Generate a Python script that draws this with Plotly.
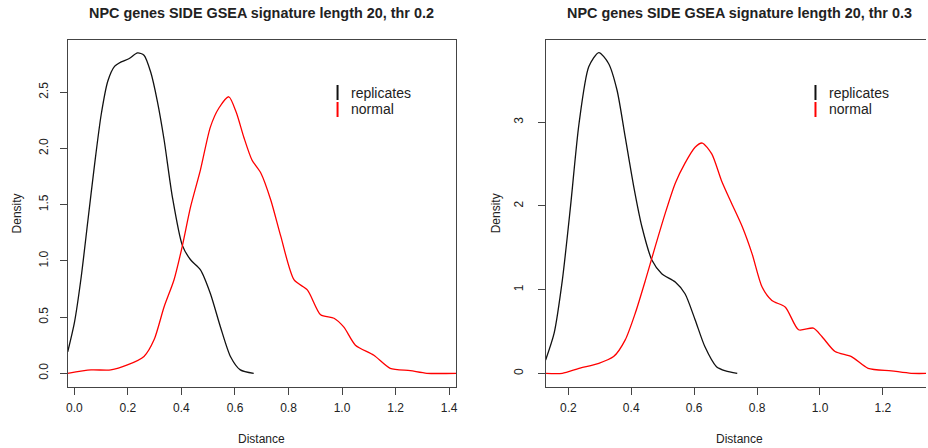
import plotly.graph_objects as go

W, H = 928, 448

# ---------------- data ----------------
titles = ["NPC genes SIDE GSEA signature length 20, thr 0.2",
          "NPC genes SIDE GSEA signature length 20, thr 0.3"]
series_names = ["replicates", "normal"]

left_rep_x = [-0.025, 0.0, 0.025, 0.05, 0.075, 0.1, 0.125, 0.15, 0.175, 0.205, 0.236, 0.26,
              0.285, 0.31, 0.335, 0.366, 0.403, 0.434, 0.471, 0.508, 0.546, 0.583, 0.620, 0.67]
left_rep_y = [0.19, 0.45, 0.85, 1.35, 1.85, 2.3, 2.6, 2.73, 2.77, 2.80, 2.85, 2.83,
              2.68, 2.42, 2.08, 1.57, 1.14, 1.01, 0.92, 0.71, 0.41, 0.15, 0.03, 0.0]

left_norm_x = [-0.025, 0.062, 0.136, 0.198, 0.26, 0.298, 0.335, 0.372, 0.403, 0.434, 0.471,
               0.508, 0.54, 0.577, 0.605, 0.633, 0.663, 0.697, 0.734, 0.771, 0.821, 0.871,
               0.92, 0.97, 1.007, 1.05, 1.119, 1.18, 1.255, 1.317, 1.43]
left_norm_y = [0.0, 0.03, 0.03, 0.074, 0.15, 0.30, 0.59, 0.83, 1.13, 1.48, 1.81,
               2.19, 2.36, 2.46, 2.32, 2.10, 1.90, 1.78, 1.54, 1.22, 0.83, 0.74,
               0.52, 0.49, 0.41, 0.25, 0.16, 0.044, 0.023, 0.0, 0.0]

right_rep_x = [0.128, 0.155, 0.181, 0.207, 0.234, 0.265, 0.297, 0.328, 0.355, 0.381, 0.408,
               0.434, 0.466, 0.497, 0.54, 0.571, 0.603, 0.634, 0.671, 0.70, 0.737]
right_rep_y = [0.16, 0.48, 1.11, 1.99, 2.98, 3.66, 3.83, 3.70, 3.38, 2.82, 2.23,
               1.75, 1.35, 1.19, 1.09, 0.95, 0.64, 0.32, 0.08, 0.03, 0.0]

right_norm_x = [0.128, 0.181, 0.234, 0.297, 0.344, 0.381, 0.413, 0.445, 0.476, 0.508, 0.54,
                0.571, 0.603, 0.626, 0.656, 0.687, 0.719, 0.753, 0.784, 0.816, 0.847, 0.890,
                0.932, 0.979, 1.006, 1.048, 1.10, 1.153, 1.227, 1.29, 1.36]
right_norm_y = [0.0, 0.0, 0.06, 0.12, 0.2, 0.40, 0.72, 1.11, 1.51, 1.91, 2.27,
                2.51, 2.70, 2.75, 2.62, 2.30, 2.03, 1.75, 1.43, 1.03, 0.87, 0.79,
                0.52, 0.54, 0.44, 0.26, 0.20, 0.06, 0.03, 0.0, 0.0]

left_xticks = [0.0, 0.2, 0.4, 0.6, 0.8, 1.0, 1.2, 1.4]
left_yticks = [0.0, 0.5, 1.0, 1.5, 2.0, 2.5]
right_xticks = [0.2, 0.4, 0.6, 0.8, 1.0, 1.2]
right_yticks = [0, 1, 2, 3]

# ---------------- styling ----------------
FONT = "Liberation Sans, Arial, sans-serif"
TXT = "#222222"
AX = "#444444"
BLACK = "#111111"
RED = "#ff0000"


def px(x):
    return x / W


def py(y):
    return 1 - y / H


fig = go.Figure()
line_common = dict(shape="spline", smoothing=0.7, width=1.3)
fig.add_trace(go.Scatter(x=left_rep_x, y=left_rep_y, mode="lines",
                         line=dict(color=BLACK, **line_common), xaxis="x", yaxis="y",
                         showlegend=False))
fig.add_trace(go.Scatter(x=left_norm_x, y=left_norm_y, mode="lines",
                         line=dict(color=RED, **line_common), xaxis="x", yaxis="y",
                         showlegend=False))
fig.add_trace(go.Scatter(x=right_rep_x, y=right_rep_y, mode="lines",
                         line=dict(color=BLACK, **line_common), xaxis="x2", yaxis="y2",
                         showlegend=False))
fig.add_trace(go.Scatter(x=right_norm_x, y=right_norm_y, mode="lines",
                         line=dict(color=RED, **line_common), xaxis="x2", yaxis="y2",
                         showlegend=False))

# plot boxes (pixels)
L = dict(x0=66, x1=456, y0=40, y1=387)
R = dict(x0=546, x1=936, y0=40, y1=387)

axis_common = dict(showgrid=False, zeroline=False, showline=True, linecolor=AX, linewidth=1,
                   ticks="outside", ticklen=7, tickcolor=AX, tickwidth=1,
                   tickfont=dict(family=FONT, size=12, color=TXT), fixedrange=True)

fig.update_layout(
    width=W, height=H, margin=dict(l=0, r=0, t=0, b=0),
    paper_bgcolor="white", plot_bgcolor="white", showlegend=False,
    font=dict(family=FONT, color=TXT, size=12),
    xaxis=dict(domain=[px(L["x0"]), px(L["x1"])], range=[-0.025, 1.426],
               tickvals=left_xticks, tickformat=".1f", mirror=True, anchor="y",
               ticklabelstandoff=3, **axis_common),
    yaxis=dict(domain=[py(L["y1"]), py(L["y0"])], range=[-0.122, 2.965],
               tickvals=left_yticks, tickformat=".1f", tickangle=-90, mirror=True,
               anchor="x", ticklabelstandoff=7, **axis_common),
    xaxis2=dict(domain=[px(R["x0"]), 1.0], range=[0.128, 1.337],
                tickvals=right_xticks, tickformat=".1f", mirror=True, anchor="y2",
                ticklabelstandoff=3, **axis_common),
    yaxis2=dict(domain=[py(R["y1"]), py(R["y0"])], range=[-0.163, 3.98],
                tickvals=right_yticks, tickformat="d", tickangle=-90, mirror=False,
                anchor="x2", ticklabelstandoff=10, **axis_common),
)

ann = []
shapes = []
for box, title in ((L, titles[0]), (R, titles[1])):
    cx = (box["x0"] + box["x1"]) / 2
    cy = (box["y0"] + box["y1"]) / 2
    ann.append(dict(text="<b>" + title + "</b>", x=px(cx), y=py(13), xref="paper", yref="paper",
                    xanchor="center", yanchor="middle", showarrow=False,
                    font=dict(family=FONT, size=14.4, color=TXT)))
    ann.append(dict(text="Distance", x=px(cx), y=py(439), xref="paper", yref="paper",
                    xanchor="center", yanchor="middle", showarrow=False,
                    font=dict(family=FONT, size=12, color=TXT)))
    ann.append(dict(text="Density", x=px(box["x0"] - (51 if box is L else 50)), y=py(cy),
                    xref="paper", yref="paper", xanchor="center", yanchor="middle",
                    textangle=-90, showarrow=False, font=dict(family=FONT, size=12, color=TXT)))

# legends
for lx in (337, 817):
    for i, (name, col) in enumerate(zip(series_names, [BLACK, RED])):
        y0 = 85 + i * 17
        shapes.append(dict(type="line", xref="paper", yref="paper", x0=px(lx), x1=px(lx),
                           y0=py(y0), y1=py(y0 + 15), line=dict(color=col, width=2)))
        ann.append(dict(text=name, x=px(lx + 12), y=py(y0 + 7.5), xref="paper", yref="paper",
                        xanchor="left", yanchor="middle", showarrow=False,
                        font=dict(family=FONT, size=14, color=TXT)))

fig.update_layout(annotations=ann, shapes=shapes)
fig.write_html("out.html")
